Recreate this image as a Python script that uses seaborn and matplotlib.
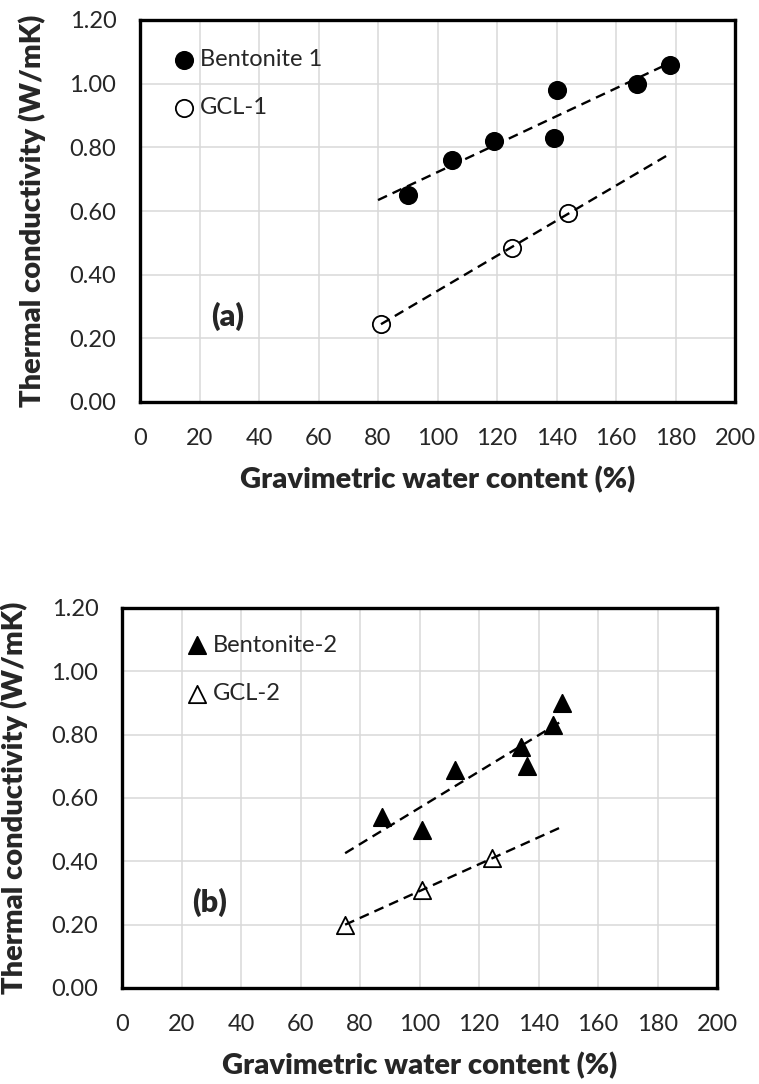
import numpy as np
import pandas as pd
import seaborn as sns
import matplotlib.pyplot as plt
from matplotlib.ticker import MultipleLocator, FormatStrFormatter

# panel (a)
bent1_w = [90, 105, 119, 139, 140, 167, 178]
bent1_k = [0.65, 0.76, 0.82, 0.83, 0.98, 1.00, 1.06]
gcl1_w = [81, 125, 144]
gcl1_k = [0.245, 0.485, 0.593]

# panel (b)
bent2_w = [87.5, 101, 112, 134, 136, 145, 148]
bent2_k = [0.54, 0.50, 0.69, 0.76, 0.70, 0.83, 0.90]
gcl2_w = [75, 101, 124.5]
gcl2_k = [0.20, 0.31, 0.41]

# x-extent of the linear trend lines
trend_a = {'Bentonite 1': (80, 178), 'GCL-1': (81, 177)}
trend_b = {'Bentonite-2': (75, 148), 'GCL-2': (75, 148)}

sns.set_theme(style="white")
plt.rcParams['font.family'] = ['Lato', 'DejaVu Sans']

fig = plt.figure(figsize=(7.59, 10.84), dpi=100)
ax_a = fig.add_axes([140/759, 682/1084, 595/759, 382/1084])
ax_b = fig.add_axes([122/759, 96/1084, 595/759, 380/1084])


def draw_panel(ax, series, trends, marker, tag, leg_anchor):
    for name, w, k, filled in series:
        df = pd.DataFrame({'w': w, 'k': k})
        sns.scatterplot(data=df, x='w', y='k', ax=ax, marker=marker, s=155,
                        color='black' if filled else 'white',
                        edgecolor='black', linewidth=1.3, label=name, zorder=3)
        # linear trend line (least squares), drawn over the markers
        lo, hi = trends[name]
        slope, icpt = np.polyfit(w, k, 1)
        xs = np.array([lo, hi])
        ax.plot(xs, slope * xs + icpt, color='black', lw=1.7,
                ls=(0, (4.2, 2.6)), zorder=4)

    ax.set_xlim(0, 200)
    ax.set_ylim(0, 1.2)
    ax.xaxis.set_major_locator(MultipleLocator(20))
    ax.xaxis.set_minor_locator(MultipleLocator(4))
    ax.yaxis.set_major_locator(MultipleLocator(0.2))
    ax.yaxis.set_minor_locator(MultipleLocator(0.04))
    ax.yaxis.set_major_formatter(FormatStrFormatter('%.2f'))
    ax.grid(True, which='major', color='#d9d9d9', lw=1.1, zorder=0)
    ax.set_axisbelow(True)
    ax.tick_params(which='both', direction='in', length=4.5, width=1.2,
                   color='black', labelsize=17)
    ax.tick_params(axis='x', which='both', pad=19)
    ax.tick_params(axis='y', which='both', pad=17)
    for sp in ax.spines.values():
        sp.set_visible(True)
        sp.set_color('black')
        sp.set_linewidth(2.4)

    ax.set_xlabel('Gravimetric water content (%)', fontsize=21,
                  fontweight='heavy', va='center')
    ax.set_ylabel('Thermal conductivity (W/mK)', fontsize=21,
                  fontweight='heavy', va='center')
    ax.xaxis.set_label_coords(0.5, -0.204)
    ax.yaxis.set_label_coords(-0.1815, 0.5)

    ax.text(29.5, 0.27, tag, fontsize=22, fontweight='heavy',
            ha='center', va='center')

    ax.legend(loc='center left', bbox_to_anchor=leg_anchor, frameon=False,
              fontsize=17, handlelength=0.8, handletextpad=0.28,
              labelspacing=1.15, borderpad=0, borderaxespad=0, markerscale=1)


draw_panel(ax_a,
           [('Bentonite 1', bent1_w, bent1_k, True),
            ('GCL-1', gcl1_w, gcl1_k, False)],
           trend_a, 'o', '(a)', (0.058, 0.834))
draw_panel(ax_b,
           [('Bentonite-2', bent2_w, bent2_k, True),
            ('GCL-2', gcl2_w, gcl2_k, False)],
           trend_b, '^', '(b)', (0.110, 0.839))

fig.savefig('out.png', dpi=100)
